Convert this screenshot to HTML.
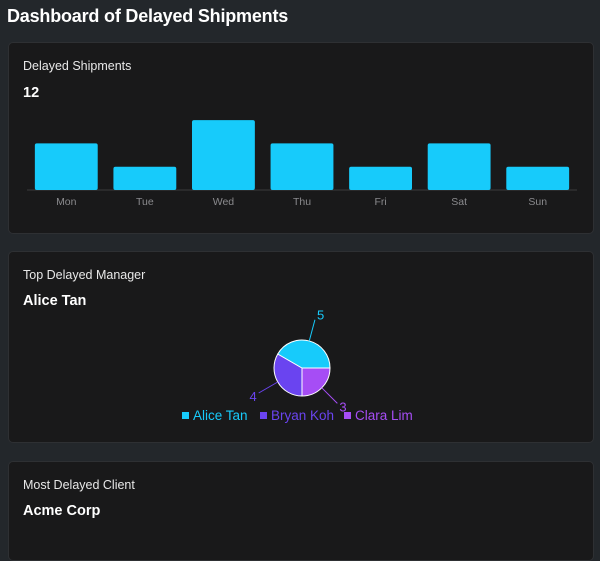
<!DOCTYPE html>
<html><head><meta charset="utf-8"><style>
body{margin:0;width:600px;height:539px;overflow:hidden;background:#23272b;font-family:"Liberation Sans",sans-serif;color:#fff;position:relative}
h1{position:absolute;left:7px;top:6px;margin:0;font-size:18px;font-weight:bold;letter-spacing:-0.2px}
.card{position:absolute;left:8px;width:586px;background:#19191a;border:1px solid #2e3033;border-radius:5px;box-sizing:border-box}
.ct{position:absolute;left:14px;font-size:12.5px;color:#e8e8e8}
.cv{position:absolute;left:14px;font-size:14.5px;font-weight:bold}
svg{position:absolute;left:0;top:0}
</style></head><body>
<h1>Dashboard of Delayed Shipments</h1>

<div class="card" style="top:42px;height:192px">
<div class="ct" style="top:16px">Delayed Shipments</div>
<div class="cv" style="top:42px">12</div>
<svg id="bar" width="586" height="192"></svg>
</div>

<div class="card" style="top:251px;height:192px">
<div class="ct" style="top:16px">Top Delayed Manager</div>
<div class="cv" style="top:41px">Alice Tan</div>
<svg id="pie" width="586" height="192"></svg>
</div>

<div class="card" style="top:461px;height:100px">
<div class="ct" style="top:16px">Most Delayed Client</div>
<div class="cv" style="top:41px">Acme Corp</div>
</div>

<script>
const days=["Mon","Tue","Wed","Thu","Fri","Sat","Sun"];
const counts=[2,1,3,2,1,2,1];
const managers=["Alice Tan","Bryan Koh","Clara Lim"];
const managerCounts=[5,4,3];
const NS="http://www.w3.org/2000/svg";
function mk(p,t,a){const e=document.createElementNS(NS,t);for(const k in a)e.setAttribute(k,a[k]);p.appendChild(e);return e;}
// bar chart (card-local coords; card at x=8,y=42)
const bar=document.getElementById('bar');
const x0=18,x1=568,base=147,unit=23.3;
const step=(x1-x0)/days.length,bw=step*0.8;
const xS=i=>x0+step*i+(step-bw)/2;
const yS=v=>base-v*unit;
const ax=mk(bar,'line',{x1:x0,x2:x1,y1:base,y2:base,stroke:'#3a3a3c'});


days.forEach((d,i)=>{
 const r=mk(bar,'rect',{x:xS(i),y:yS(counts[i]),width:bw,height:base-yS(counts[i]),rx:2,fill:'#17cbfb'});
 
 
 const t=mk(bar,'text',{x:xS(i)+bw/2,y:base+15,'text-anchor':'middle','font-size':10.5,fill:'#8a8a8d','font-family':'Liberation Sans, sans-serif'});
 t.textContent=d;
 
 
});
// pie (card at x=8,y=251)
const pie=document.getElementById('pie');
const cx=293,cy=116,R=28;
const cols=['#17cbfb','#6a44f0','#a64df5'];
const total=managerCounts.reduce((a,b)=>a+b,0);
// drawn clockwise from 3 o'clock in reverse order: Clara, Bryan, Alice
let ang=0;
const order=[2,1,0];
order.forEach(k=>{
 const sw=managerCounts[k]/total*2*Math.PI;
 const a0=ang,a1=ang+sw;ang=a1;
 const p=`M${cx},${cy}L${cx+R*Math.cos(a0)},${cy+R*Math.sin(a0)}A${R},${R} 0 ${sw>Math.PI?1:0} 1 ${cx+R*Math.cos(a1)},${cy+R*Math.sin(a1)}Z`;
 const s=mk(pie,'path',{d:p,fill:cols[k],stroke:'#fff','stroke-width':1});
 
 
 const m=(a0+a1)/2;
 const ex=cx+R*Math.cos(m),ey=cy+R*Math.sin(m);
 const lx=cx+(R+22)*Math.cos(m),ly=cy+(R+22)*Math.sin(m);
 const ln=mk(pie,'line',{x1:ex,y1:ey,x2:lx,y2:ly,stroke:cols[k]});
 
 
 const right=Math.cos(m)>=0;
 const t=mk(pie,'text',{x:lx+(right?2:-2),y:ly+(Math.sin(m)>0?8:0),'text-anchor':right?'start':'end','font-size':13,fill:cols[k],'font-family':'Liberation Sans, sans-serif'});
 t.textContent=managerCounts[k];
 
 
});
// legend
const lw=[78,84,78];let lxp=173;
managers.forEach((n,i)=>{
 const r=mk(pie,'rect',{x:lxp,y:160,width:7,height:7,fill:cols[i]});
 
 
 const t=mk(pie,'text',{x:lxp+11,y:168,'font-size':13.5,fill:cols[i],'font-family':'Liberation Sans, sans-serif'});
 t.textContent=n;
 
 
 lxp+=lw[i];
});
</script>
</body></html>
